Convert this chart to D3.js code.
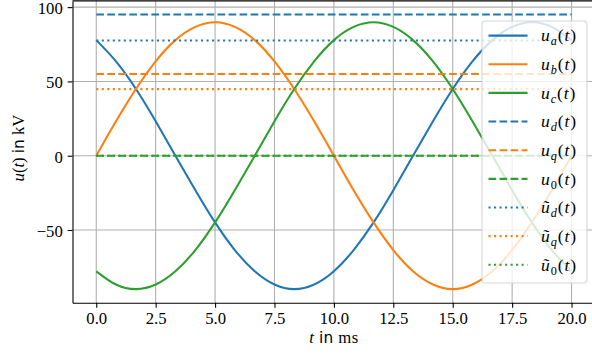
<!DOCTYPE html>
<html>
<head>
<meta charset="utf-8">
<script src="https://cdn.jsdelivr.net/npm/d3@7"></script>
<style>
  html, body { margin: 0; padding: 0; background: #fff; }
  svg { display: block; }
</style>
</head>
<body>
<svg id="chart" width="592" height="354"></svg>
<script>
// region data
const timeMs = [0, 0.83, 1.67, 2.5, 3.33, 4.17, 5, 5.83, 6.67, 7.5, 8.33, 9.17, 10,
  10.83, 11.67, 12.5, 13.33, 14.17, 15, 15.83, 16.67, 17.5, 18.33, 19.17, 20];
const uA = [77.8, 63.5, 44.9, 23.2, 0, -23.2, -44.9, -63.5, -77.8, -86.7, -89.8, -86.7, -77.8,
  -63.5, -44.9, -23.2, 0, 23.2, 44.9, 63.5, 77.8, 86.7, 89.8, 86.7, 77.8];
const uB = [0, 23.2, 44.9, 63.5, 77.8, 86.7, 89.8, 86.7, 77.8, 63.5, 44.9, 23.2, 0,
  -23.2, -44.9, -63.5, -77.8, -86.7, -89.8, -86.7, -77.8, -63.5, -44.9, -23.2, 0];
const uC = [-77.8, -86.7, -89.8, -86.7, -77.8, -63.5, -44.9, -23.2, 0, 23.2, 44.9, 63.5, 77.8,
  86.7, 89.8, 86.7, 77.8, 63.5, 44.9, 23.2, 0, -23.2, -44.9, -63.5, -77.8];

// constant dq0 levels, drawn over the whole period
const levelTimes = [0, 20];
const uD = [95, 95];
const uQ = [55, 55];
const u0 = [0, 0];
const uDTilde = [77.6, 77.6];
const uQTilde = [44.8, 44.8];
const u0Tilde = [0, 0];

const legendSubs = ['a', 'b', 'c', 'd', 'q', '0', 'd', 'q', '0'];
const xTicks = [0, 2.5, 5, 7.5, 10, 12.5, 15, 17.5, 20];
const yTicks = [-50, 0, 50, 100];
// endregion

// region size
const lw = 2.08;
const fontSize = 16.7;
const serif = '"Liberation Serif", serif';
const sans = '"DejaVu Sans", sans-serif';
const svg = d3.select('#chart');
// endregion

const x = d3.scaleLinear().domain([-1, 21]).range([72.5, 595.3]);
const y = d3.scaleLinear().domain([-99.0, 104.2]).range([302.8, 0.9]);

const series = [
  {t: timeMs, v: uA, color: '#1f77b4', dash: null},
  {t: timeMs, v: uB, color: '#ff7f0e', dash: null},
  {t: timeMs, v: uC, color: '#2ca02c', dash: null},
  {t: levelTimes, v: uD, color: '#1f77b4', dash: [3.7 * lw, 1.6 * lw]},
  {t: levelTimes, v: uQ, color: '#ff7f0e', dash: [3.7 * lw, 1.6 * lw]},
  {t: levelTimes, v: u0, color: '#2ca02c', dash: [3.7 * lw, 1.6 * lw]},
  {t: levelTimes, v: uDTilde, color: '#1f77b4', dash: [lw, 1.65 * lw]},
  {t: levelTimes, v: uQTilde, color: '#ff7f0e', dash: [lw, 1.65 * lw]},
  {t: levelTimes, v: u0Tilde, color: '#2ca02c', dash: [lw, 1.65 * lw]}
];

// grid
const grid = svg.append('g').attr('stroke', '#b0b0b0').attr('stroke-width', 1.1);
grid.selectAll('.gx').data(xTicks).join('line')
  .attr('x1', d => x(d)).attr('x2', d => x(d))
  .attr('y1', y.range()[0]).attr('y2', y.range()[1]);
grid.selectAll('.gy').data(yTicks).join('line')
  .attr('y1', d => y(d)).attr('y2', d => y(d))
  .attr('x1', x.range()[0]).attr('x2', x.range()[1]);

// lines
const line = d3.line()
  .curve(d3.curveNatural)
  .x(d => x(d[0]))
  .y(d => y(d[1]));

svg.append('g').selectAll('path').data(series).join('path')
  .attr('fill', 'none')
  .attr('stroke', d => d.color)
  .attr('stroke-width', lw)
  .attr('stroke-dasharray', d => d.dash ? d.dash.join(',') : null)
  .attr('d', d => line(d.t.map((t, i) => [t, d.v[i]])));

// axes
const xAxis = d3.axisBottom(x).tickValues(xTicks).tickFormat(d3.format('.1f'))
  .tickSize(4.86).tickSizeOuter(0).tickPadding(4.86);
const yAxis = d3.axisLeft(y).tickValues(yTicks)
  .tickSize(4.86).tickSizeOuter(0).tickPadding(4.86);

const gx = svg.append('g').attr('transform', 'translate(0,' + y.range()[0] + ')').call(xAxis);
const gy = svg.append('g').attr('transform', 'translate(' + x.range()[0] + ',0)').call(yAxis);
[gx, gy].forEach(g => {
  g.attr('font-family', serif).attr('font-size', fontSize);
  g.selectAll('path, line').attr('stroke', '#000').attr('stroke-width', 1.1);
  g.selectAll('text').attr('fill', '#000').style('font-family', serif);
});
gy.selectAll('text').attr('dy', '0.38em');

// top spine
svg.append('line')
  .attr('x1', x.range()[0]).attr('x2', x.range()[1])
  .attr('y1', y.range()[1]).attr('y2', y.range()[1])
  .attr('stroke', '#000').attr('stroke-width', 1.1);

// mixed math / text labels
function richText(textSel, parts, size) {
  let shift = 0;
  textSel.style('font-family', serif).style('font-size', (size || fontSize) + 'px');
  parts.forEach(p => {
    const ts = textSel.append('tspan').text(p.s);
    if (p.it) ts.style('font-style', 'italic');
    if (p.sans) ts.style('font-family', sans).style('font-size', '0.92em');
    const target = p.sub ? 4 : 0;
    if (target !== shift) {
      ts.attr('dy', target - shift);
      shift = target;
    }
    if (p.sub) ts.style('font-size', '0.7em');
  });
}

const xLabel = svg.append('text')
  .attr('x', (x.range()[0] + x.range()[1]) / 2)
  .attr('y', 343)
  .attr('text-anchor', 'middle')
  .style('letter-spacing', '0.4px');
richText(xLabel, [{s: 't', it: true}, {s: ' '}, {s: 'in', sans: true}, {s: ' ms'}]);

const yLabel = svg.append('text')
  .attr('transform', 'translate(24,' + 148 + ') rotate(-90)')
  .attr('text-anchor', 'middle');
richText(yLabel, [{s: 'u', it: true}, {s: '('}, {s: 't', it: true}, {s: ')'}, {s: ' '},
  {s: 'in', sans: true}, {s: ' kV'}]);

// legend
const legend = svg.append('g');
legend.append('rect')
  .attr('x', 482).attr('y', 21)
  .attr('width', 105).attr('height', 262)
  .attr('rx', 3.5)
  .attr('fill', 'rgba(255,255,255,0.8)')
  .attr('stroke', 'rgba(204,204,204,0.8)')
  .attr('stroke-width', 1.1);

const rows = legend.selectAll('.row').data(series).join('g')
  .attr('transform', (d, i) => 'translate(0,' + (35.6 + i * 28.65) + ')');
rows.append('line')
  .attr('x1', 488.5).attr('x2', 527.5)
  .attr('stroke', d => d.color)
  .attr('stroke-width', lw)
  .attr('stroke-dasharray', d => d.dash ? d.dash.join(',') : null);
rows.append('text')
  .attr('x', 541)
  .attr('y', 5.8)
  .style('letter-spacing', '0.9px')
  .each(function (d, i) {
    const sub = legendSubs[i];
    richText(d3.select(this), [
      {s: i >= 6 ? 'ũ' : 'u', it: true},
      {s: sub, it: sub !== '0', sub: true},
      {s: '('},
      {s: 't', it: true},
      {s: ')'}
    ], 17.5);
  });
</script>
</body>
</html>
